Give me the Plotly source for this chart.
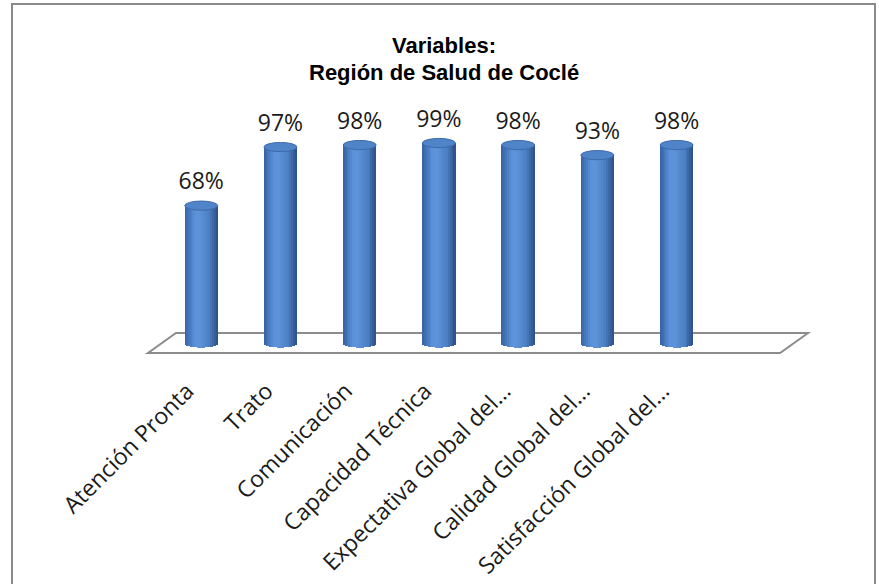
import math
import plotly.graph_objects as go

# Survey results for the Coclé health region
categories = [
    "Atención Pronta",
    "Trato",
    "Comunicación",
    "Capacidad Técnica",
    "Expectativa Global del…",
    "Calidad Global del…",
    "Satisfacción Global del…",
]
values = [68, 97, 98, 99, 98, 93, 98]
value_labels = ["68%", "97%", "98%", "99%", "98%", "93%", "98%"]

title_lines = ["Variables:", "Región de Salud de Coclé"]

# ---- geometry / style ----
W, H = 879, 584
M_L, M_R, M_T, M_B = 122, 44, 20, 212
X_RANGE = [-1, 8]
Y_RANGE = [-14.36, 159.9]
px_x = (W - M_L - M_R) / (X_RANGE[1] - X_RANGE[0])
px_y = (H - M_T - M_B) / (Y_RANGE[1] - Y_RANGE[0])

BAR_W = 33 / px_x          # cylinder diameter in x units
CAP_H = 4.6 / px_y         # half-height of the elliptical caps in y units
N_SLICES = 18

grad_stops = [
    (0.00, (0x33, 0x61, 0xa0)),
    (0.30, (0x5a, 0x91, 0xd8)),
    (0.45, (0x5e, 0x94, 0xda)),
    (0.75, (0x4b, 0x7e, 0xc2)),
    (1.00, (0x2c, 0x50, 0x85)),
]


def shade(t):
    for (t0, c0), (t1, c1) in zip(grad_stops, grad_stops[1:]):
        if t0 <= t <= t1:
            f = (t - t0) / (t1 - t0)
            r, g, b = (round(a + (b_ - a) * f) for a, b_ in zip(c0, c1))
            return f"rgb({r},{g},{b})"
    r, g, b = grad_stops[-1][1]
    return f"rgb({r},{g},{b})"


xs = list(range(len(categories)))
fig = go.Figure()

# cylinder bodies: vertical slices shaded across the width, rounded at the base
slice_w = BAR_W / N_SLICES
for k in range(N_SLICES):
    t = (k + 0.5) / N_SLICES
    u = 2 * t - 1
    drop = CAP_H * math.sqrt(max(0.0, 1 - u * u))
    fig.add_trace(go.Bar(
        x=xs,
        y=[v + drop for v in values],
        base=[-drop] * len(values),
        width=slice_w * 1.25,
        offset=-BAR_W / 2 + k * slice_w - slice_w * 0.1,
        marker=dict(color=shade(t), line=dict(width=0)),
        hoverinfo="skip",
        showlegend=False,
    ))

# value labels above each cylinder
fig.add_trace(go.Scatter(
    x=xs,
    y=[v + 22 / px_y for v in values],
    mode="text",
    text=value_labels,
    textposition="middle center",
    textfont=dict(family="Open Sans, Lato, sans-serif", size=23, color="#1a1a1a"),
    hoverinfo="skip",
    showlegend=False,
))

shapes = []

# floor of the 3-D plot
depth = 10 / px_y
skew = 28 / px_x
fl = -0.672
fr = len(categories) + 0.306
shapes.append(dict(
    type="path", xref="x", yref="y", layer="below",
    path=(f"M {fl},{-depth} L {fr},{-depth} L {fr + skew},{depth} "
          f"L {fl + skew},{depth} Z"),
    line=dict(color="#8c8c8c", width=2), fillcolor="white",
))

# top caps of the cylinders
for x, v in zip(xs, values):
    shapes.append(dict(
        type="circle", xref="x", yref="y", layer="above",
        x0=x - BAR_W / 2, x1=x + BAR_W / 2,
        y0=v - CAP_H, y1=v + CAP_H,
        fillcolor="#5084c8", line=dict(color="#3c6aaa", width=1),
    ))

# chart frame
def to_paper_x(p):
    return (p - M_L) / (W - M_L - M_R)


def to_paper_y(p):
    return (H - M_B - p) / (H - M_T - M_B)


shapes.append(dict(
    type="rect", xref="paper", yref="paper", layer="above",
    x0=to_paper_x(12), x1=to_paper_x(875),
    y0=to_paper_y(620), y1=to_paper_y(4),
    line=dict(color="#8a8a8a", width=2), fillcolor="rgba(0,0,0,0)",
))

annotations = []
for text, ypx in zip(title_lines, [45, 72]):
    annotations.append(dict(
        text=f"<b>{text}</b>", xref="paper", yref="paper",
        x=to_paper_x(444), y=to_paper_y(ypx),
        xanchor="center", yanchor="middle", showarrow=False,
        font=dict(family="Liberation Sans Narrow, Arial Narrow, Liberation Sans, sans-serif",
                  size=22, color="#000000"),
    ))

fig.update_layout(
    width=W, height=H,
    margin=dict(l=M_L, r=M_R, t=M_T, b=M_B, autoexpand=False),
    paper_bgcolor="white", plot_bgcolor="white",
    barmode="overlay",
    bargap=0,
    shapes=shapes,
    annotations=annotations,
    xaxis=dict(
        range=X_RANGE, tickmode="array", tickvals=xs, ticktext=categories,
        tickangle=-45, showgrid=False, zeroline=False, showline=False, ticks="",
        ticklabelshift=-14, automargin=False,
        tickfont=dict(family="Open Sans, Lato, sans-serif", size=23, color="#1a1a1a"),
        fixedrange=True,
    ),
    yaxis=dict(
        range=Y_RANGE, showgrid=False, zeroline=False, showline=False,
        showticklabels=False, ticks="", fixedrange=True, automargin=False,
    ),
)

fig.write_html("out.html")
